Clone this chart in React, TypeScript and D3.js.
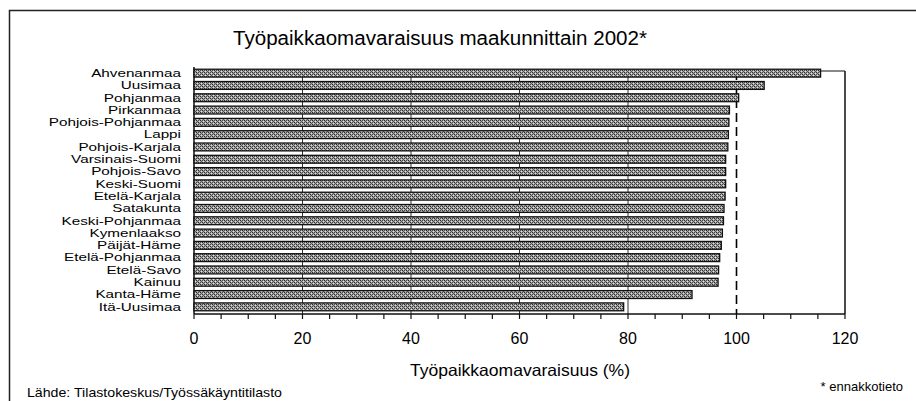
import React from "react";
import * as d3 from "d3";

const regions = [
  "Ahvenanmaa", "Uusimaa", "Pohjanmaa", "Pirkanmaa", "Pohjois-Pohjanmaa", "Lappi",
  "Pohjois-Karjala", "Varsinais-Suomi", "Pohjois-Savo", "Keski-Suomi", "Etelä-Karjala",
  "Satakunta", "Keski-Pohjanmaa", "Kymenlaakso", "Päijät-Häme", "Etelä-Pohjanmaa",
  "Etelä-Savo", "Kainuu", "Kanta-Häme", "Itä-Uusimaa",
];
const values = [
  115.5, 105.1, 100.4, 98.7, 98.6, 98.5, 98.4, 98.0, 98.0, 98.0, 97.9,
  97.7, 97.6, 97.4, 97.2, 96.9, 96.7, 96.6, 91.8, 79.2,
];
const majorTicks = [0, 20, 40, 60, 80, 100, 120];
const gridValues = [20, 40, 60, 80];
const referenceValue = 100;
const title = "Työpaikkaomavaraisuus maakunnittain 2002*";
const axisTitle = "Työpaikkaomavaraisuus (%)";
const sourceText = "Lähde: Tilastokeskus/Työssäkäyntitilasto";
const noteText = "* ennakkotieto";

const W = 916;
const H = 401;
const font = "'Liberation Sans', Arial, sans-serif";

export default function App() {
  const plotLeft = 194;
  const plotRight = 845;
  const plotTop = 71;
  const plotBottom = 314;
  const x = d3.scaleLinear().domain([0, 120]).range([plotLeft, plotRight]);
  const y = d3.scaleBand<string>().domain(regions).range([67, 313]).paddingInner(0.36).paddingOuter(0.18);
  const minorTicks = d3.range(0, 121, 5);

  return (
    <svg width={W} height={H} style={{ position: "absolute", left: 0, top: 0, background: "#fff" }}>
      <defs>
        <pattern id="hatch" width="4" height="4" patternUnits="userSpaceOnUse">
          <rect width="4" height="4" fill="#a6a6a6" />
          <rect x="0" y="0" width="1" height="1" fill="#2a2a2a" />
          <rect x="2" y="2" width="1" height="1" fill="#2a2a2a" />
          <rect x="1" y="1" width="1" height="1" fill="#5a5a5a" />
          <rect x="3" y="3" width="1" height="1" fill="#5a5a5a" />
          <rect x="2" y="0" width="1" height="1" fill="#4a4a4a" />
          <rect x="0" y="2" width="1" height="1" fill="#4a4a4a" />
          <rect x="1" y="3" width="1" height="1" fill="#dedede" />
          <rect x="3" y="1" width="1" height="1" fill="#dedede" />
        </pattern>
      </defs>
      {/* outer frame */}
      <path d={`M9.5,${H + 5} V10.5 H${W + 5}`} fill="none" stroke="#222" strokeWidth={1.5} />

      <text x={440} y={45} textAnchor="middle" fontFamily={font} fontSize={19.5} fill="#000"
        textLength={414} lengthAdjust="spacingAndGlyphs">
        {title}
      </text>

      {/* gridlines */}
      {gridValues.map((v) => (
        <line key={v} x1={x(v)} x2={x(v)} y1={plotTop} y2={plotBottom} stroke="#333" strokeWidth={1} />
      ))}
      <line x1={x(referenceValue)} x2={x(referenceValue)} y1={plotTop} y2={plotBottom}
        stroke="#000" strokeWidth={1.6} strokeDasharray="9,5" />

      {/* plot frame */}
      <line x1={plotLeft} x2={plotRight} y1={plotTop} y2={plotTop} stroke="#111" strokeWidth={1} />
      <line x1={plotRight} x2={plotRight} y1={plotTop} y2={plotBottom} stroke="#111" strokeWidth={1.5} />
      <line x1={plotLeft} x2={plotLeft} y1={plotTop - 4} y2={plotBottom} stroke="#111" strokeWidth={1.5} />

      {/* bars */}
      {regions.map((r, i) => (
        <rect key={r} x={x(0)} y={y(r)!} width={x(values[i]) - x(0)} height={y.bandwidth()}
          fill="url(#hatch)" stroke="#111" strokeWidth={1.3} />
      ))}

      {/* category labels */}
      {regions.map((r) => (
        <g key={r} transform={`translate(181,${y(r)! + y.bandwidth() / 2}) scale(1.44,1)`}>
          <text x={0} y={0} dy="0.36em" textAnchor="end" fontFamily={font} fontSize={10.6} fill="#000">
            {r}
          </text>
        </g>
      ))}

      {/* x axis */}
      <line x1={plotLeft} x2={plotRight} y1={plotBottom} y2={plotBottom} stroke="#111" strokeWidth={1.5} />
      {minorTicks.map((t) => (
        <line key={t} x1={x(t)} x2={x(t)} y1={plotBottom} y2={plotBottom + 5} stroke="#111" strokeWidth={1.2} />
      ))}
      {majorTicks.map((t) => (
        <text key={t} x={x(t)} y={344} textAnchor="middle" fontFamily={font} fontSize={16} fill="#000">
          {t}
        </text>
      ))}
      <text x={520} y={376} textAnchor="middle" fontFamily={font} fontSize={16.5} fill="#000"
        textLength={220} lengthAdjust="spacingAndGlyphs">
        {axisTitle}
      </text>
      <text x={27} y={397} fontFamily={font} fontSize={13} fill="#000"
        textLength={255} lengthAdjust="spacingAndGlyphs">
        {sourceText}
      </text>
      <text x={903} y={391} textAnchor="end" fontFamily={font} fontSize={13} fill="#000">
        {noteText}
      </text>
    </svg>
  );
}
